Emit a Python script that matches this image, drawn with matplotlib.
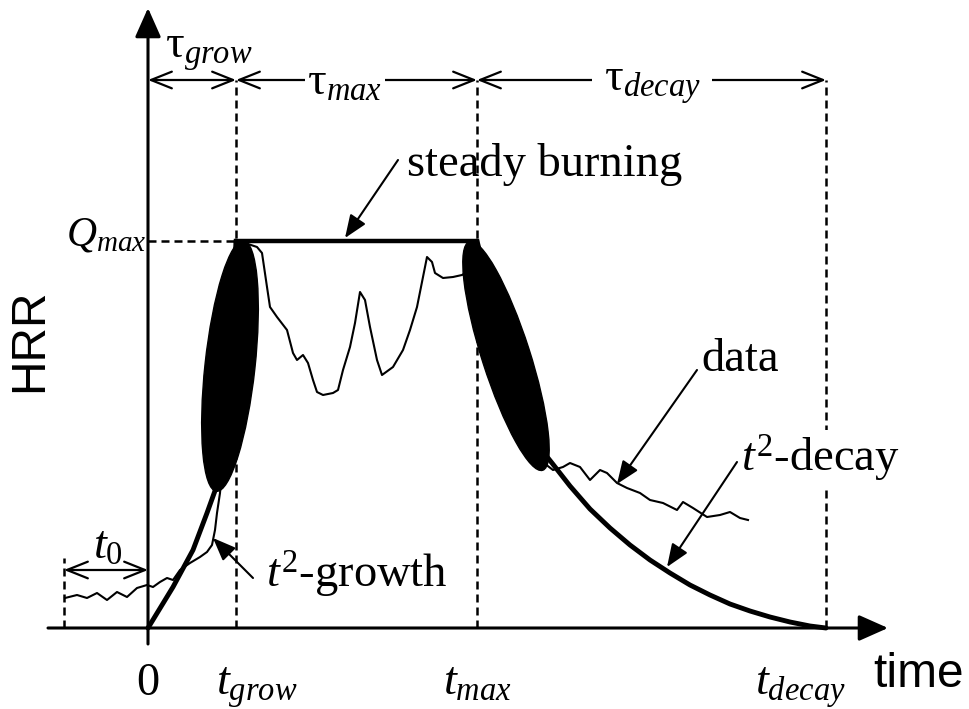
"""
Схема кривой тепловыделения (HRR) пожара:
рост по t^2, стационарное горение, затухание по t^2 и экспериментальные данные.
"""

import matplotlib.pyplot as plt
from matplotlib.patches import Ellipse

plt.rcParams["font.family"] = ["Liberation Serif", "DejaVu Serif"]
plt.rcParams["mathtext.fontset"] = "custom"
plt.rcParams["mathtext.rm"] = "Liberation Serif"
plt.rcParams["mathtext.it"] = "Liberation Serif:italic"
plt.rcParams["mathtext.bf"] = "Liberation Serif:bold"

# характерные моменты времени и максимум тепловыделения (условные единицы)
T0 = -84
T_GROW = 88
T_MAX = 329
T_DECAY = 678
Q_MAX = 387

# кривая роста ~ t^2
growth_t = [0, 25, 45, 59, 68, 77, 84, 88]
growth_q = [0, 41, 78, 115, 140, 228, 308, 387]

# кривая затухания ~ t^2
decay_t = [329, 362, 392, 404, 422, 442, 462, 482, 502, 522, 542, 562,
           582, 602, 622, 642, 662, 678]
decay_q = [387, 258, 180, 165, 142, 119, 100, 83, 68, 55, 43, 33,
           24, 17, 11, 6, 2, 0]

# экспериментальные данные
data_t = [-83, -71, -61, -51, -41, -31, -21, -11, -1, 5, 12, 19, 25, 32, 42,
          52, 59, 64, 67, 69, 72, 80, 84, 92, 94, 109, 114, 119, 122, 129,
          139, 145, 149, 155, 160, 165, 169, 175, 185, 190, 195, 202, 207,
          212, 217, 222, 229, 234, 245, 255, 262, 269, 275, 279, 284, 287,
          295, 305, 314, 317, 352, 392, 405, 415, 422, 432, 442, 452, 459,
          469, 479, 492, 502, 515, 529, 535, 545, 559, 572, 582, 592, 600]
data_q = [30, 33, 30, 35, 28, 36, 31, 40, 43, 41, 46, 50, 48, 58, 65,
          71, 76, 83, 98, 115, 135, 228, 298, 378, 386, 381, 375, 341, 321, 311,
          298, 275, 268, 273, 265, 248, 236, 233, 235, 238, 258, 281, 305,
          336, 328, 301, 268, 253, 261, 278, 298, 321, 351, 371, 366, 355,
          350, 351, 353, 355, 248, 168, 158, 161, 165, 161, 148, 158, 155,
          145, 140, 135, 128, 125, 118, 126, 120, 111, 113, 116, 110, 108]

fig = plt.figure(figsize=(9.7, 7.09), dpi=100)
ax = fig.add_axes([0, 0, 1, 1])
ax.set_xlim(-148, 822)
ax.set_ylim(-81, 628)
ax.axis("off")

FS = 33.5
FS_SANS = 34.5
dash = (0, (3.2, 2.0))
arrow_fill = dict(arrowstyle="-|>,head_length=0.7,head_width=0.28",
                  mutation_scale=20, lw=1.5, color="k", shrinkA=0, shrinkB=0)
arrow_open = dict(arrowstyle="<->,head_length=0.75,head_width=0.3",
                  mutation_scale=20, lw=1.6, color="k", shrinkA=0, shrinkB=0)
axis_arrow = dict(arrowstyle="-|>,head_length=0.9,head_width=0.4",
                  mutation_scale=20, lw=2.2, color="k", shrinkA=0, shrinkB=0)

# оси
ax.annotate("", xy=(740, 0), xytext=(-100, 0), arrowprops=axis_arrow)
ax.annotate("", xy=(0, 620), xytext=(0, -16), arrowprops=axis_arrow)

# вспомогательные пунктиры
top = 548
for t in (T_GROW, T_MAX, T_DECAY):
    ax.plot([t, t], [0, top], color="k", lw=1.8, ls=dash)
ax.plot([T0, T0], [0, 70], color="k", lw=1.8, ls=dash)
ax.plot([0, T_GROW], [Q_MAX, Q_MAX], color="k", lw=1.8, ls=dash)

# интервалы tau
ax.annotate("", xy=(0, top), xytext=(T_GROW, top), arrowprops=arrow_open)
ax.annotate("", xy=(T_GROW, top), xytext=(T_MAX, top), arrowprops=arrow_open)
ax.annotate("", xy=(T_MAX, top), xytext=(T_DECAY, top), arrowprops=arrow_open)
ax.annotate("", xy=(T0, 58), xytext=(0, 58), arrowprops=arrow_open)

white = dict(facecolor="white", edgecolor="none", pad=2)
ax.text(61, 576, r"$\mathrm{\tau}_{grow}$", fontsize=FS, ha="center", va="center")
ax.text(197, 545, r"$\mathrm{\tau}_{max}$", fontsize=FS, ha="center", va="center",
        bbox=white, zorder=5)
ax.text(504, 543, r"$\mathrm{\tau}_{decay}$", fontsize=FS, ha="center", va="center",
        bbox=dict(facecolor="white", edgecolor="none", pad=8), zorder=5)
ax.text(-40, 81, r"$t_0$", fontsize=FS, ha="center", va="center")

# кривые
ax.plot(data_t, data_q, color="k", lw=1.5, zorder=3)
ax.plot(growth_t, growth_q, color="k", lw=3.5, zorder=3, solid_capstyle="round")
ax.plot(decay_t, decay_q, color="k", lw=3.5, zorder=3, solid_capstyle="round",
        solid_joinstyle="round")
ax.plot([T_GROW, T_MAX], [Q_MAX, Q_MAX], color="k", lw=3.2, zorder=3)

# зоны перехода
ax.add_patch(Ellipse((82, 262), 50, 252, angle=-6.2, color="k", zorder=4))
ax.add_patch(Ellipse((358, 272), 48, 240, angle=17.8, color="k", zorder=4))

# подписи со стрелками
ax.text(397, 463, "steady burning", fontsize=FS, ha="center", va="center")
ax.annotate("", xy=(197, 390), xytext=(250, 468), arrowprops=arrow_fill)
ax.text(592, 268, "data", fontsize=FS, ha="center", va="center")
ax.annotate("", xy=(469, 144), xytext=(549, 258), arrowprops=arrow_fill, zorder=5)
ax.text(672, 170, r"$t^2$-decay", fontsize=FS, ha="center", va="center",
        bbox=white, zorder=5)
ax.annotate("", xy=(519, 61), xytext=(589, 166), arrowprops=arrow_fill, zorder=5)
ax.text(209, 53, r"$t^2$-growth", fontsize=FS, ha="center", va="center")
ax.annotate("", xy=(65, 90), xytext=(105, 50), arrowprops=arrow_fill, zorder=5)

# подписи осей
ax.text(-2, 393, r"$Q_{max}$", fontsize=30, ha="right", va="center")
ax.text(-118, 288, "HRR", fontsize=FS_SANS, family="Liberation Sans",
        rotation=90, ha="center", va="center")
ax.text(725, -59, "time", fontsize=FS_SANS, family="Liberation Sans",
        ha="left", va="baseline")
ax.text(0, -67, "0", fontsize=FS, ha="center", va="baseline")
ax.text(109, -67, r"$t_{grow}$", fontsize=FS, ha="center", va="baseline")
ax.text(T_MAX, -67, r"$t_{max}$", fontsize=FS, ha="center", va="baseline")
ax.text(652, -67, r"$t_{decay}$", fontsize=FS, ha="center", va="baseline")

plt.savefig("out.png", dpi=100)
